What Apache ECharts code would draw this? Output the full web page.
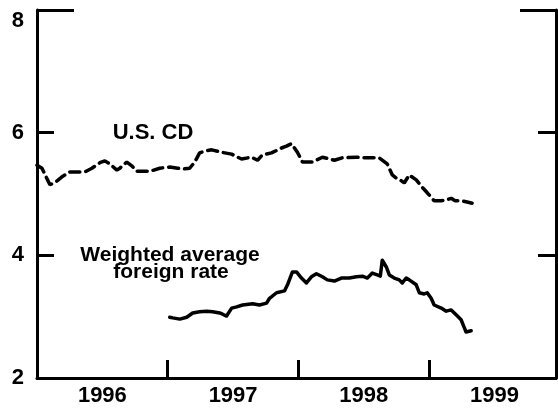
<!DOCTYPE html>
<html>
<head>
<meta charset="utf-8">
<script src="https://cdn.jsdelivr.net/npm/echarts@6/dist/echarts.min.js"></script>
<style>
html,body{margin:0;padding:0;background:#fff;}
#chart{width:558px;height:411px;}
</style>
</head>
<body>
<div id="chart"></div>
<script>
// X tick labels (years) and y tick values
const yearLabels = ['1996', '1997', '1998', '1999'];
const yearTicks = [1997, 1998, 1999];
const yTicks = [4, 6];
const yLabels = [2, 4, 6];
const yTopLabel = [8];

// U.S. CD rate (percent), dates as fractional years
const cdDates = [1996.000,1996.038,1996.099,1996.145,1996.198,1996.252,1996.313,1996.366,1996.420,1996.481,
  1996.519,1996.557,1996.611,1996.634,1996.656,1996.687,1996.725,1996.763,1996.824,1996.863,
  1996.939,1997.015,1997.076,1997.130,1997.168,1997.206,1997.244,1997.282,1997.336,1997.412,
  1997.489,1997.565,1997.641,1997.687,1997.725,1997.794,1997.870,1997.908,1997.947,1997.992,
  1998.031,1998.107,1998.183,1998.275,1998.336,1998.443,1998.519,1998.618,1998.679,1998.718,
  1998.748,1998.771,1998.809,1998.847,1998.901,1998.947,1998.985,1999.038,1999.092,1999.130,
  1999.168,1999.198,1999.244,1999.290,1999.328];
const cdRates = [5.47,5.42,5.15,5.20,5.29,5.36,5.36,5.36,5.42,5.51,
  5.54,5.49,5.39,5.42,5.47,5.52,5.46,5.37,5.37,5.37,
  5.42,5.44,5.42,5.41,5.42,5.52,5.67,5.70,5.72,5.68,
  5.65,5.57,5.60,5.55,5.64,5.67,5.75,5.78,5.82,5.68,
  5.52,5.52,5.60,5.55,5.59,5.60,5.59,5.59,5.49,5.31,
  5.26,5.24,5.18,5.31,5.23,5.11,5.02,4.89,4.89,4.90,
  4.93,4.89,4.89,4.87,4.85];

// Weighted average foreign rate (percent)
const fxDates = [1997.015,1997.038,1997.092,1997.145,1997.191,1997.244,1997.298,1997.344,1997.397,1997.420,
  1997.450,1997.458,1997.489,1997.527,1997.573,1997.649,1997.702,1997.756,1997.779,1997.832,
  1997.893,1997.916,1997.954,1997.985,1998.023,1998.061,1998.099,1998.137,1998.183,1998.221,
  1998.275,1998.328,1998.389,1998.443,1998.489,1998.527,1998.565,1998.603,1998.626,1998.641,
  1998.672,1998.695,1998.733,1998.771,1998.794,1998.824,1998.847,1998.901,1998.924,1998.962,
  1998.985,1999.015,1999.038,1999.092,1999.130,1999.168,1999.206,1999.244,1999.267,1999.282,
  1999.290,1999.321];
const fxRates = [2.99,2.98,2.96,2.99,3.06,3.08,3.09,3.08,3.06,3.04,
  3.01,3.03,3.14,3.16,3.19,3.21,3.19,3.22,3.30,3.39,
  3.42,3.52,3.73,3.73,3.63,3.55,3.65,3.70,3.65,3.60,
  3.58,3.63,3.63,3.65,3.66,3.63,3.71,3.68,3.66,3.92,
  3.81,3.68,3.63,3.60,3.55,3.63,3.60,3.52,3.39,3.37,
  3.39,3.30,3.19,3.14,3.09,3.11,3.03,2.95,2.83,2.75,
  2.73,2.77];

const pair = (xs, ys) => xs.map((x, i) => [x, ys[i]]);
const FONT = '"Liberation Sans", Arial, Helvetica, sans-serif';
const INK = '#000';

const chart = echarts.init(document.getElementById('chart'), null, {renderer: 'canvas'});
const baseY = {type: 'value', min: 2, max: 8, interval: 2, splitLine: {show: false}};
const tickFont = {color: INK, fontFamily: FONT, fontSize: 22, fontWeight: 'bold'};
chart.setOption({
  animation: false,
  backgroundColor: '#fff',
  grid: {left: 37, right: 2, top: 10, bottom: 33, containLabel: false},
  xAxis: [{
    type: 'value', min: 1996, max: 1999.97,
    axisLine: {show: true, lineStyle: {color: INK, width: 3}},
    axisTick: {show: true, inside: true, length: 18, lineStyle: {color: INK, width: 3},
      customValues: yearTicks},
    axisLabel: Object.assign({show: true, margin: 7,
      customValues: yearLabels.map(y => Number(y) + 0.5),
      formatter: v => String(Math.floor(v))}, tickFont),
    splitLine: {show: false}
  }],
  yAxis: [
    Object.assign({}, baseY, {
      position: 'left',
      axisLine: {show: true, lineStyle: {color: INK, width: 3}},
      axisTick: {show: true, inside: true, length: 17, lineStyle: {color: INK, width: 3}, customValues: yTicks},
      axisLabel: Object.assign({show: true, margin: 13, customValues: yLabels}, tickFont)
    }),
    Object.assign({}, baseY, {
      position: 'right',
      axisLine: {show: true, lineStyle: {color: INK, width: 3}},
      axisTick: {show: true, inside: true, length: 18, lineStyle: {color: INK, width: 3}, customValues: yTicks},
      axisLabel: {show: false}
    }),
    Object.assign({}, baseY, {
      position: 'left',
      axisLine: {show: false},
      axisTick: {show: true, inside: true, length: 37, lineStyle: {color: INK, width: 3}, customValues: [8]},
      axisLabel: Object.assign({show: true, margin: 13, customValues: yTopLabel, verticalAlign: 'top'}, tickFont)
    }),
    Object.assign({}, baseY, {
      position: 'right',
      axisLine: {show: false},
      axisTick: {show: true, inside: true, length: 36, lineStyle: {color: INK, width: 3}, customValues: [8]},
      axisLabel: {show: false}
    })
  ],
  series: [
    {
      name: 'U.S. CD', type: 'line', data: pair(cdDates, cdRates),
      showSymbol: false, smooth: false,
      lineStyle: {color: INK, width: 3.5, type: [10, 6], cap: 'round'}
    },
    {
      name: 'Weighted average foreign rate', type: 'line', data: pair(fxDates, fxRates),
      showSymbol: false, smooth: false,
      lineStyle: {color: INK, width: 3.5, join: 'round', cap: 'round'}
    }
  ],
  graphic: [
    {type: 'text', x: 153, y: 133,
      style: {text: 'U.S. CD', fill: INK, font: 'bold 22px ' + FONT, align: 'center', verticalAlign: 'middle'}},
    {type: 'text', x: 170, y: 255,
      style: {text: 'Weighted average', fill: INK, font: 'bold 21px ' + FONT, align: 'center', verticalAlign: 'middle'}},
    {type: 'text', x: 171, y: 272,
      style: {text: 'foreign rate', fill: INK, font: 'bold 21px ' + FONT, align: 'center', verticalAlign: 'middle'}}
  ]
});
</script>
</body>
</html>
